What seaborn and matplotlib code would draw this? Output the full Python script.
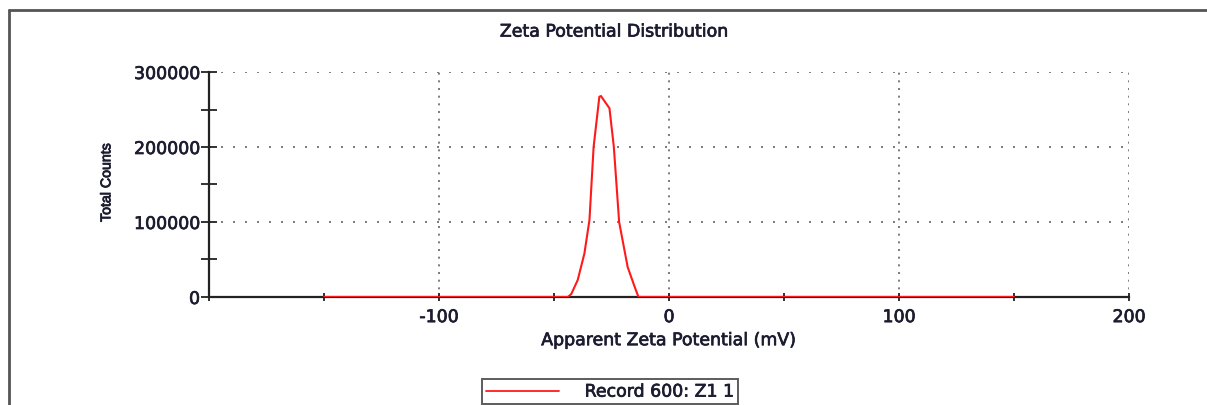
import matplotlib
matplotlib.use("Agg")
import matplotlib.pyplot as plt
import matplotlib.patheffects as pe
from matplotlib.lines import Line2D
from matplotlib.ticker import MultipleLocator, FixedLocator, NullFormatter
import seaborn as sns
import pandas as pd

# Zeta potential distribution (Record 600: Z1 1)
zeta_mv = [-150, -44, -42.5, -39.7, -36.8, -34.6, -32.8, -30.3, -29.6,
           -25.9, -24, -21.7, -18, -15, -13.3, 150]
total_counts = [0, 0, 4000, 22700, 58000, 102700, 200000, 267000, 268000,
                251600, 200000, 100000, 40000, 14000, 0, 0]
series_label = "Record 600: Z1 1"

title = "Zeta Potential Distribution"
x_label = "Apparent Zeta Potential (mV)"
y_label = "Total Counts"
x_tick_labels = [-100, 0, 100, 200]
y_tick_labels = [0, 100000, 200000, 300000]

df = pd.DataFrame({"zeta": zeta_mv, "counts": total_counts})

sns.set_theme(style="white")
plt.rcParams["font.family"] = ["DejaVu Sans"]

text_color = "#1c1c30"
line_red = "#ff1a1a"
font_size = 12.5
# slightly heavier strokes for all labels
heavy = [pe.withStroke(linewidth=0.5, foreground=text_color)]
font_kw = dict(fontsize=font_size, color=text_color, path_effects=heavy)

fig = plt.figure(figsize=(12.07, 4.05), dpi=100)
ax = fig.add_axes([0.1732, 0.2667, 0.9354 - 0.1732, 0.8222 - 0.2667])

sns.lineplot(data=df, x="zeta", y="counts", ax=ax, color=line_red,
             linewidth=1.5, legend=False, zorder=3)

ax.set_xlim(-200, 200)
ax.set_ylim(0, 300000)

# ticks every 50 mV / 50000 counts, labelled only at every other one
ax.xaxis.set_major_locator(FixedLocator(x_tick_labels))
ax.xaxis.set_minor_locator(MultipleLocator(50))
ax.yaxis.set_major_locator(FixedLocator(y_tick_labels))
ax.yaxis.set_minor_locator(MultipleLocator(50000))
ax.set_xticklabels([str(v) for v in x_tick_labels])
ax.set_yticklabels([str(v) for v in y_tick_labels])
ax.xaxis.set_minor_formatter(NullFormatter())
ax.yaxis.set_minor_formatter(NullFormatter())
ax.tick_params(axis="both", which="both", direction="inout", width=1.3,
               color="#222222", labelcolor=text_color, labelsize=font_size,
               bottom=True, left=True)
ax.tick_params(axis="x", which="both", length=6, pad=5)
ax.tick_params(axis="y", which="both", length=11, pad=1)
for lbl in ax.get_xticklabels() + ax.get_yticklabels():
    lbl.set_path_effects(heavy)

# dotted grid: horizontal rows sparser than vertical columns
ax.yaxis.grid(True, which="major", linestyle=(0, (1.2, 6.0)), color="#666666",
              linewidth=1.2)
ax.xaxis.grid(True, which="major", linestyle=(0, (1.2, 3.4)), color="#666666",
              linewidth=1.2)

for side in ("top", "right"):
    ax.spines[side].set_visible(False)
for side in ("left", "bottom"):
    ax.spines[side].set_color("#222222")
    ax.spines[side].set_linewidth(1.6)

ax.set_xlabel(x_label, **font_kw)
ax.xaxis.set_label_coords(0.5, -0.152)
ax.set_ylabel(y_label, fontsize=10.2, color=text_color,
              family=["Liberation Sans", "DejaVu Sans"],
              path_effects=[pe.withStroke(linewidth=0.6, foreground=text_color)])
ax.yaxis.set_label_coords(-0.104, 0.509)

fig.text(0.5091, 0.922, title, ha="center", va="center", **font_kw)

handle = Line2D([], [], color=line_red, linewidth=1.3)
leg = fig.legend([handle], [series_label], loc="center",
                 bbox_to_anchor=(0.5055, 0.0330), frameon=True, fancybox=False,
                 prop={"size": font_size}, handlelength=4.2,
                 handletextpad=1.5, borderpad=0.22, borderaxespad=0)
leg.get_frame().set_edgecolor("#333333")
leg.get_frame().set_linewidth(1.4)
for t in leg.get_texts():
    t.set_color(text_color)
    t.set_path_effects(heavy)

# outer frame (left and top edges of the report panel)
fig.add_artist(Line2D([0.0078, 0.0078], [0.0, 0.9753], transform=fig.transFigure,
                      color="#555555", linewidth=2))
fig.add_artist(Line2D([0.0078, 1.0], [0.9753, 0.9753], transform=fig.transFigure,
                      color="#555555", linewidth=2))

fig.savefig("out.png", dpi=100)
